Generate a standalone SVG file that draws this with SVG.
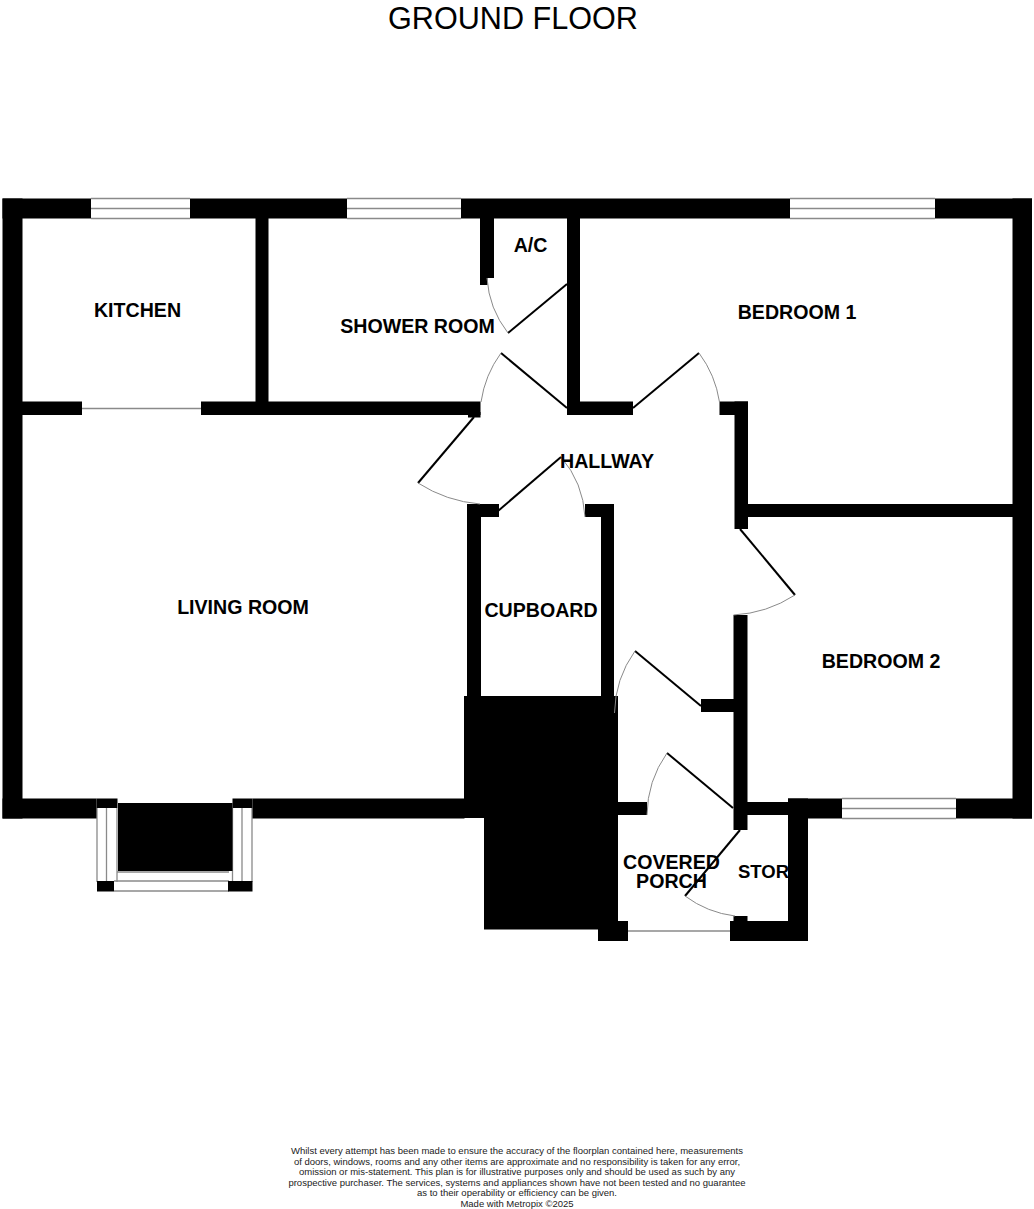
<svg xmlns="http://www.w3.org/2000/svg" width="1034" height="1209" viewBox="0 0 1034 1209">
<style>
.w{fill:#000}
.gl{fill:none;stroke:#8a8a8a;stroke-width:1.3}
.leaf{fill:none;stroke:#000;stroke-width:2}
.arc{fill:none;stroke:#8a8a8a;stroke-width:1}
text{font-family:"Liberation Sans",Arial,sans-serif;fill:#000;text-anchor:middle}
.r{font-size:19.600px;font-weight:bold}
.f{font-size:9.500px;fill:#222}
</style>
<rect width="1034" height="1209" fill="#fff"/>
<text id="title" x="513" y="28.500" font-size="30.600">GROUND FLOOR</text>
<g id="windows">
<path class="gl" d="M91 198.500H190M91 208.500H190M91 218.500H190M347 198.500H461M347 208.500H461M347 218.500H461M790 198.500H935M790 208.500H935M790 218.500H935M842 798.500H956M842 808.500H956M842 818.500H956"/>
<path class="gl" d="M82 408.500H201M628 931H730"/>
<path class="gl" d="M97 808V882M106.500 808V882M117 808V882M232.500 808V882M242 808V882M252 808V882M117 872H229M114 881H229M114 891H229"/>
</g>
<g id="walls">
<rect class="w" x="2.500" y="198.500" width="88.500" height="20"/>
<rect class="w" x="190" y="198.500" width="157" height="20"/>
<rect class="w" x="461" y="198.500" width="329" height="20"/>
<rect class="w" x="935" y="198.500" width="97" height="20"/>
<rect class="w" x="2.500" y="198.500" width="20" height="620"/>
<rect class="w" x="1012.500" y="198.500" width="19.500" height="620"/>
<rect class="w" x="255.500" y="218" width="13" height="197"/>
<rect class="w" x="22" y="401.500" width="60" height="13.500"/>
<rect class="w" x="201" y="401.500" width="279.500" height="13.500"/>
<rect class="w" x="468" y="412" width="12.500" height="5.500"/>
<rect class="w" x="480" y="218" width="7.500" height="67"/>
<rect class="w" x="487" y="218" width="7" height="60"/>
<rect class="w" x="567" y="218" width="13" height="197"/>
<rect class="w" x="567" y="401.500" width="66" height="13.500"/>
<rect class="w" x="719.500" y="401.500" width="28.500" height="13.500"/>
<rect class="w" x="734.500" y="401.500" width="13.500" height="127.500"/>
<rect class="w" x="748" y="504" width="265" height="13"/>
<rect class="w" x="467" y="504" width="14" height="195"/>
<rect class="w" x="467" y="504" width="32" height="13"/>
<rect class="w" x="585" y="504" width="29" height="13"/>
<rect class="w" x="601" y="504" width="13" height="195"/>
<rect class="w" x="464" y="696" width="154" height="20"/>
<rect class="w" x="464" y="696" width="21" height="122"/>
<rect class="w" x="484" y="716" width="134" height="213.500"/>
<rect class="w" x="2.500" y="798.500" width="94" height="20"/>
<rect class="w" x="96.500" y="798.500" width="21" height="9.500"/>
<rect class="w" x="232.500" y="798.500" width="20" height="9.500"/>
<rect class="w" x="252.500" y="798.500" width="212" height="20"/>
<rect class="w" x="118" y="803" width="114.500" height="68"/>
<rect class="w" x="97" y="881" width="17" height="10.500"/>
<rect class="w" x="228" y="881" width="24.500" height="10.500"/>
<rect class="w" x="701" y="699" width="33" height="13"/>
<rect class="w" x="733.500" y="615" width="14" height="215"/>
<rect class="w" x="618" y="802" width="29" height="13"/>
<rect class="w" x="747" y="802" width="41" height="13"/>
<rect class="w" x="788" y="798.500" width="54" height="20"/>
<rect class="w" x="956" y="798.500" width="76" height="20"/>
<rect class="w" x="788" y="798.500" width="20" height="142.500"/>
<rect class="w" x="730" y="921" width="78" height="20"/>
<rect class="w" x="733.500" y="916" width="14" height="6"/>
<rect class="w" x="598" y="921" width="30" height="20"/>
<rect class="w" x="600" y="716" width="18" height="206"/>
</g>
<g id="connectors">
<path class="leaf" d="M567 284L508 333"/><path class="arc" d="M487 278A100 100 0 0 0 508 333"/>
<path class="leaf" d="M567 408L501 353"/><path class="arc" d="M501 353A110 110 0 0 0 481 402"/>
<path class="leaf" d="M633 408L699 353"/><path class="arc" d="M699 353A110 110 0 0 1 719.500 402"/>
<path class="leaf" d="M474 417L418 483"/><path class="arc" d="M418 483A135 135 0 0 0 480 504"/>
<path class="leaf" d="M498 511L561 457"/><path class="arc" d="M561 457A100 100 0 0 1 585 517"/>
<path class="leaf" d="M740 529L795 595"/><path class="arc" d="M795 595A125 125 0 0 1 733.500 615"/>
<path class="leaf" d="M701 706L635 651"/><path class="arc" d="M635 651A110 110 0 0 0 614.500 713"/>
<path class="leaf" d="M733 808L667 753"/><path class="arc" d="M667 753A110 110 0 0 0 647 815"/>
<path class="leaf" d="M740 830L685 896"/><path class="arc" d="M685 896A105 105 0 0 0 735 916"/>
</g>
<g id="kitchen"><text class="r" x="137.500" y="317">KITCHEN</text></g>
<g id="shower-room"><text class="r" x="417.500" y="332.500">SHOWER ROOM</text></g>
<g id="ac"><text class="r" x="530.500" y="252">A/C</text></g>
<g id="bedroom-1"><text class="r" x="797" y="318.500">BEDROOM 1</text></g>
<g id="hallway"><text class="r" x="607" y="468">HALLWAY</text></g>
<g id="living-room"><text class="r" x="243" y="614">LIVING ROOM</text></g>
<g id="cupboard"><text class="r" x="541" y="617">CUPBOARD</text></g>
<g id="bedroom-2"><text class="r" x="881" y="668">BEDROOM 2</text></g>
<g id="covered-porch"><text class="r" x="671.500" y="868.500">COVERED</text><text class="r" x="671.500" y="887.500">PORCH</text></g>
<g id="store"><text class="r" style="text-anchor:start;font-size:18.500px" x="738" y="877.500">STOR</text></g>
<g id="disclaimer">
<text class="f" x="517" y="1154">Whilst every attempt has been made to ensure the accuracy of the floorplan contained here, measurements</text>
<text class="f" x="517" y="1164.500">of doors, windows, rooms and any other items are approximate and no responsibility is taken for any error,</text>
<text class="f" x="517" y="1175">omission or mis-statement. This plan is for illustrative purposes only and should be used as such by any</text>
<text class="f" x="517" y="1185.500">prospective purchaser. The services, systems and appliances shown have not been tested and no guarantee</text>
<text class="f" x="517" y="1196">as to their operability or efficiency can be given.</text>
<text class="f" x="517" y="1206.500">Made with Metropix ©2025</text>
</g>
</svg>
